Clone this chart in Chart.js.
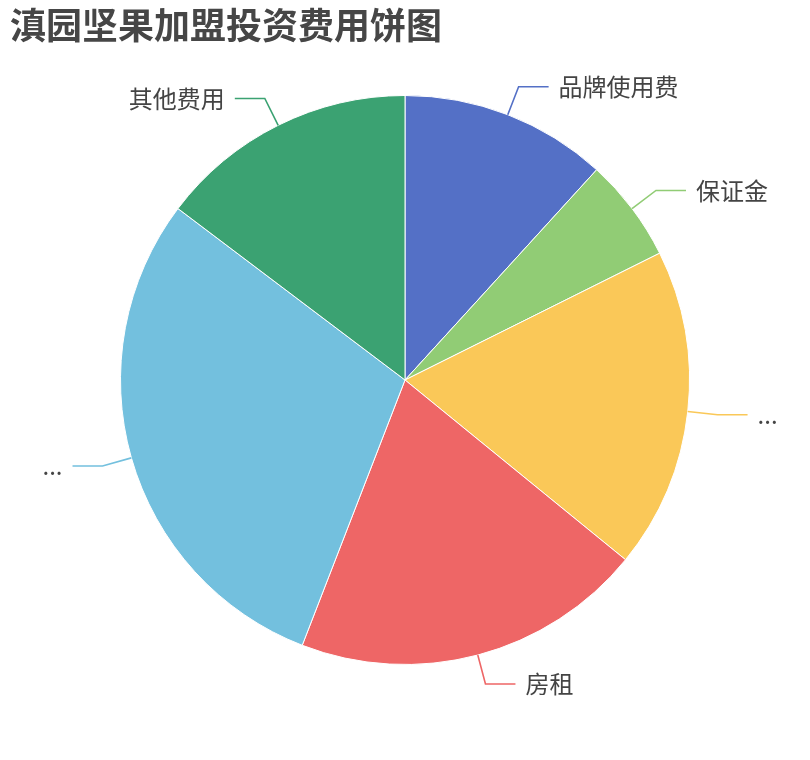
<!DOCTYPE html>
<html>
<head>
<meta charset="utf-8">
<script src="https://cdn.jsdelivr.net/npm/chart.js@4/dist/chart.umd.min.js"></script>
<style>
  html, body { margin: 0; padding: 0; background: #fff; }
  #wrap { width: 810px; height: 760px; }
</style>
</head>
<body>
<div id="wrap"><canvas id="pieChart" width="810" height="760"></canvas></div>
<script>
// chart data
var chartTitle = '滇园坚果加盟投资费用饼图';
var categories = ['品牌使用费', '保证金', '...', '房租', '...', '其他费用'];
var costValues = [2, 1, 3.1, 3.4, 5, 2.5];
var sliceColors = ['#5470c6', '#91cc75', '#fac858', '#ee6666', '#73c0de', '#3ba272'];

Chart.defaults.font.family = '"Noto Sans CJK SC", "Noto Sans", sans-serif';

// outside labels with leader lines, placed from the arc elements
var outsideLabels = {
    id: 'outsideLabels',
    afterDatasetsDraw: function (chart) {
        var ctx = chart.ctx;
        var meta = chart.getDatasetMeta(0);
        ctx.save();
        meta.data.forEach(function (arc, i) {
            var p = arc.getProps(['x', 'y', 'startAngle', 'endAngle', 'outerRadius'], true);
            var mid = (p.startAngle + p.endAngle) / 2;
            var r0 = p.outerRadius, r1 = p.outerRadius + 30;
            var x0 = p.x + Math.cos(mid) * r0, y0 = p.y + Math.sin(mid) * r0;
            var x1 = p.x + Math.cos(mid) * r1, y1 = p.y + Math.sin(mid) * r1;
            var right = Math.cos(mid) >= 0;
            var x2 = x1 + (right ? 30 : -30);
            ctx.strokeStyle = sliceColors[i];
            ctx.lineWidth = 1.6;
            ctx.beginPath();
            ctx.moveTo(x0, y0);
            ctx.lineTo(x1, y1);
            ctx.lineTo(x2, y1);
            ctx.stroke();
            ctx.fillStyle = '#444';
            ctx.font = '24px "Noto Sans CJK SC", sans-serif';
            ctx.textBaseline = 'middle';
            ctx.textAlign = right ? 'left' : 'right';
            ctx.fillText(chart.data.labels[i], x2 + (right ? 10 : -10), y1);
        });
        ctx.restore();
    },
    afterDraw: function (chart) {
        var ctx = chart.ctx;
        ctx.save();
        ctx.fillStyle = '#464646';
        ctx.font = 'bold 36px "Noto Sans CJK SC", sans-serif';
        ctx.textBaseline = 'middle';
        ctx.textAlign = 'left';
        ctx.fillText(chartTitle, 10, 25);
        ctx.restore();
    }
};

var ctxP = document.getElementById('pieChart').getContext('2d');
var myPieChart = new Chart(ctxP, {
    type: 'pie',
    data: {
        labels: categories,
        datasets: [{
            data: costValues,
            backgroundColor: sliceColors,
            borderColor: '#ffffff',
            borderWidth: 1
        }]
    },
    options: {
        responsive: false,
        animation: false,
        layout: { padding: { left: 120, right: 120, top: 95, bottom: 95 } },
        plugins: {
            legend: { display: false },
            tooltip: { enabled: false }
        }
    },
    plugins: [outsideLabels]
});
</script>
</body>
</html>
